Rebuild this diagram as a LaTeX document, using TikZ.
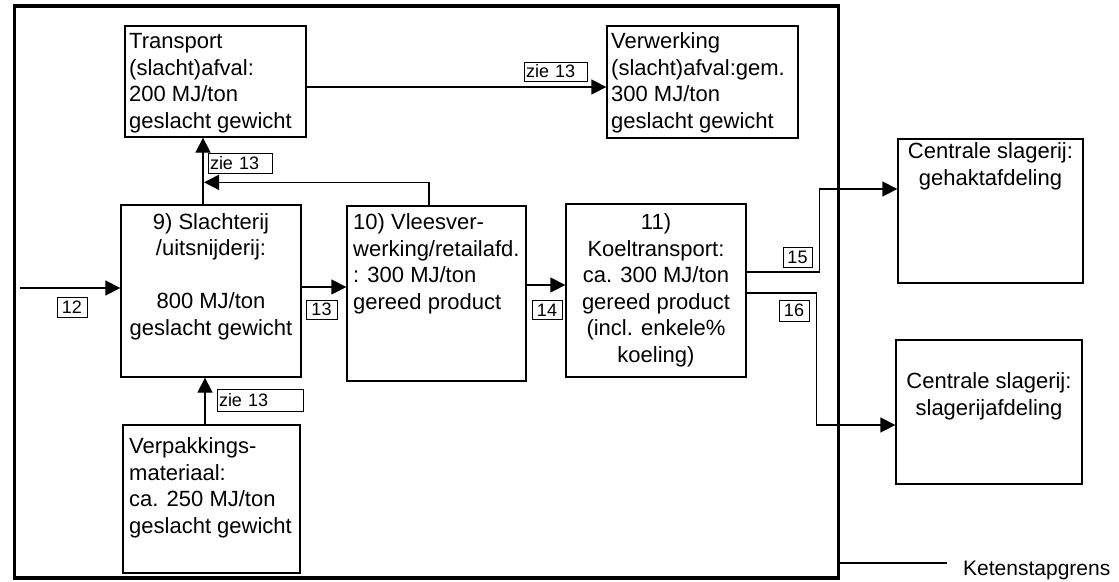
\documentclass[tikz,border=0pt]{standalone}
\usepackage{fontspec}
\setmainfont{Liberation Sans}
\usetikzlibrary{arrows.meta,calc}
\begin{document}
\begin{tikzpicture}[x=1pt,y=-1pt,
  box/.style={draw,line width=1.3pt,inner sep=0pt},
  txt/.style={inner sep=0pt,font=\fontsize{22}{26.5}\selectfont,align=left},
  ctxt/.style={inner sep=0pt,font=\fontsize{22}{26.5}\selectfont,align=center},
  lab/.style={draw,line width=1pt,inner sep=0pt,font=\fontsize{18}{18}\selectfont},
  zlab/.style={lab,inner xsep=2pt,align=left},
  arr/.style={line width=1.3pt,-{Triangle[length=15pt,width=15pt]}},
  ln/.style={line width=1.3pt}]
\useasboundingbox (0,0) rectangle (1119,581);
% outer frame
\node[draw,line width=3.2pt,minimum width=824pt,minimum height=572pt,inner sep=0pt] (frame) at (426.5,292) {};
% boxes
\node[box,minimum width=181pt,minimum height=111pt] (tr) at (215.5,81.5) {};
\node[box,minimum width=191pt,minimum height=112pt] (vw) at (702.5,82) {};
\node[box,minimum width=180pt,minimum height=172pt] (sl) at (211,291) {};
\node[box,minimum width=179pt,minimum height=175pt] (vl) at (436.5,293.5) {};
\node[box,minimum width=180pt,minimum height=173pt] (ko) at (656,290.5) {};
\node[box,minimum width=177pt,minimum height=148pt] (vp) at (211.5,499) {};
\node[box,minimum width=185pt,minimum height=144pt] (cg) at (990.5,211) {};
\node[box,minimum width=186pt,minimum height=144pt] (cs) at (989,412) {};
% texts (anchored at the baseline of the last line)
\node[txt,anchor=base west] (ttr) at (129,128) {Transport\\(slacht)afval:\\200 MJ/ton\\geslacht gewicht};
\node[txt,anchor=base west] (tvw) at (611,128) {Verwerking\\(slacht)afval:gem.\\300 MJ/ton\\geslacht gewicht};
\node[ctxt,anchor=base] (tsl) at (211,335) {9) Slachterij\\/uitsnijderij:\\\mbox{}\\800 MJ/ton\\geslacht gewicht};
\node[txt,anchor=base west] (tvl) at (353,309) {10) Vleesver-\\werking/retailafd.\\: 300 MJ/ton\\gereed product};
\node[ctxt,anchor=base] (tko) at (656,362) {11)\\Koeltransport:\\ca. 300 MJ/ton\\gereed product\\(incl. enkele\%\\koeling)};
\node[txt,anchor=base west] (tvp) at (129,533) {Verpakkings-\\materiaal:\\ca. 250 MJ/ton\\geslacht gewicht};
\node[ctxt,anchor=base] (tcg) at (990.5,185) {Centrale slagerij:\\gehaktafdeling};
\node[ctxt,anchor=base] (tcs) at (989,415) {Centrale slagerij:\\slagerijafdeling};
% labels
\node[lab,minimum width=30pt,minimum height=20pt] (l12) at (72,307) {12};
\node[lab,minimum width=31pt,minimum height=19pt] (l13) at (321.5,309.5) {13};
\node[lab,minimum width=30pt,minimum height=19pt] (l14) at (547,310) {14};
\node[lab,minimum width=29pt,minimum height=20pt] (l15) at (797.5,257) {15};
\node[lab,minimum width=30pt,minimum height=21pt] (l16) at (794,310.5) {16};
\node[zlab,text width=82pt,minimum height=22pt] (z1) at (260,400) {zie 13};
\node[zlab,text width=60pt,minimum height=20pt] (z2) at (240,163) {zie 13};
\node[zlab,text width=59pt,minimum height=19pt] (z3) at (555.5,71.5) {zie 13};
% connectors
\coordinate (in12) at (20,288);
\draw[arr] (in12) -- (in12 -| sl.west);
\draw[arr] ([yshift=4pt]sl.east) -- ([yshift=4pt]sl.east -| vl.west);
\draw[arr] ([yshift=8.5pt]vl.east) -- ([yshift=8.5pt]vl.east -| ko.west);
\draw[arr] ([yshift=18.5pt]ko.east) -- ++(73,0) |- ([yshift=22pt]cg.west);
\draw[arr] ([yshift=-2.5pt]ko.east) -- ++(70,0) |- ([yshift=-13pt]cs.west);
\draw[arr] ([xshift=-6.5pt]vp.north) -- ([xshift=-6.5pt]vp.north |- sl.south);
\draw[arr] ([xshift=-8pt]sl.north) -- ([xshift=-8pt]sl.north |- tr.south);
\draw[arr] ([xshift=-7.5pt]vl.north) |- ([xshift=-7pt,yshift=22pt]sl.north);
\draw[arr] ([yshift=-5.5pt]tr.east) -- ([yshift=-5.5pt]tr.east -| vw.west);
% legend
\coordinate (kgend) at (947,563);
\draw[ln] (frame.east |- kgend) -- (kgend);
\node[inner sep=0pt,anchor=base west,font=\fontsize{21}{25}\selectfont] (kg) at (963,575) {Ketenstapgrens};
\end{tikzpicture}
\end{document}
